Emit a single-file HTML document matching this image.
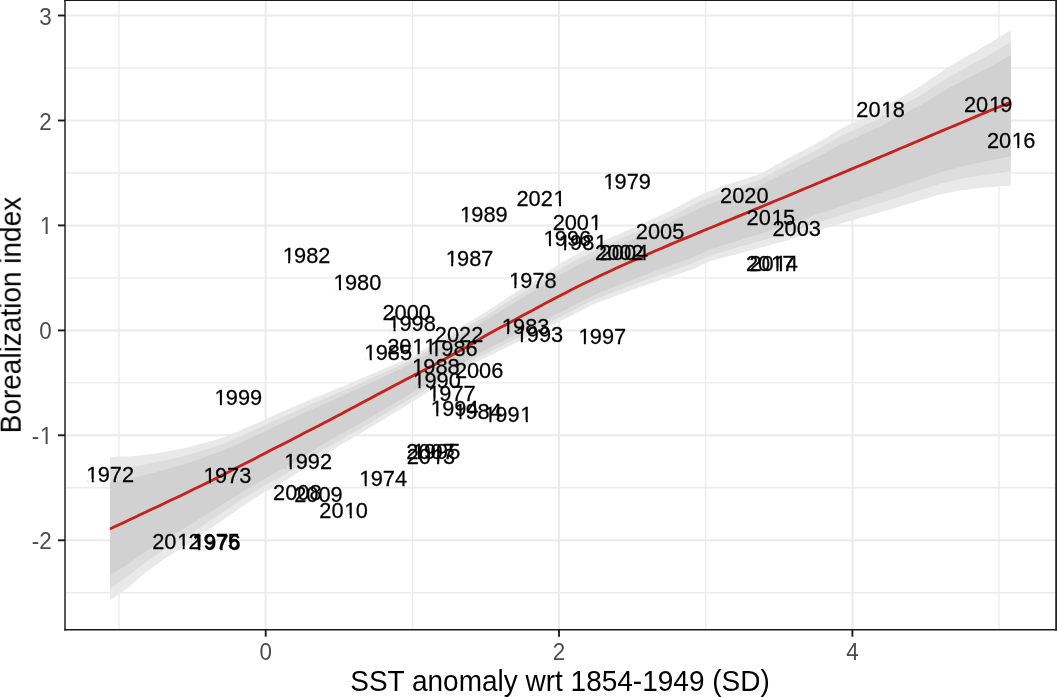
<!DOCTYPE html><html><head><meta charset="utf-8"><style>html,body{margin:0;padding:0;background:#fff;}svg{display:block;}</style></head><body><svg width="1057" height="697" viewBox="0 0 1057 697">
<rect width="1057" height="697" fill="#fff"/>
<defs><clipPath id="pc"><rect x="65.0" y="0.0" width="991.0" height="629.7"/></clipPath></defs>
<g clip-path="url(#pc)">
<line x1="119.0" y1="0.0" x2="119.0" y2="629.7" stroke="#EBEBEB" stroke-width="1.4"/>
<line x1="412.4" y1="0.0" x2="412.4" y2="629.7" stroke="#EBEBEB" stroke-width="1.4"/>
<line x1="705.7" y1="0.0" x2="705.7" y2="629.7" stroke="#EBEBEB" stroke-width="1.4"/>
<line x1="999.0" y1="0.0" x2="999.0" y2="629.7" stroke="#EBEBEB" stroke-width="1.4"/>
<line x1="65.0" y1="592.8" x2="1056.0" y2="592.8" stroke="#EBEBEB" stroke-width="1.4"/>
<line x1="65.0" y1="487.8" x2="1056.0" y2="487.8" stroke="#EBEBEB" stroke-width="1.4"/>
<line x1="65.0" y1="382.9" x2="1056.0" y2="382.9" stroke="#EBEBEB" stroke-width="1.4"/>
<line x1="65.0" y1="277.9" x2="1056.0" y2="277.9" stroke="#EBEBEB" stroke-width="1.4"/>
<line x1="65.0" y1="173.0" x2="1056.0" y2="173.0" stroke="#EBEBEB" stroke-width="1.4"/>
<line x1="65.0" y1="68.0" x2="1056.0" y2="68.0" stroke="#EBEBEB" stroke-width="1.4"/>
<line x1="265.7" y1="0.0" x2="265.7" y2="629.7" stroke="#EBEBEB" stroke-width="2"/>
<line x1="559.0" y1="0.0" x2="559.0" y2="629.7" stroke="#EBEBEB" stroke-width="2"/>
<line x1="852.4" y1="0.0" x2="852.4" y2="629.7" stroke="#EBEBEB" stroke-width="2"/>
<line x1="65.0" y1="540.3" x2="1056.0" y2="540.3" stroke="#EBEBEB" stroke-width="2"/>
<line x1="65.0" y1="435.3" x2="1056.0" y2="435.3" stroke="#EBEBEB" stroke-width="2"/>
<line x1="65.0" y1="330.4" x2="1056.0" y2="330.4" stroke="#EBEBEB" stroke-width="2"/>
<line x1="65.0" y1="225.4" x2="1056.0" y2="225.4" stroke="#EBEBEB" stroke-width="2"/>
<line x1="65.0" y1="120.5" x2="1056.0" y2="120.5" stroke="#EBEBEB" stroke-width="2"/>
<line x1="65.0" y1="15.5" x2="1056.0" y2="15.5" stroke="#EBEBEB" stroke-width="2"/>
<path d="M110.0,457.0 L115.0,456.8 L120.0,456.6 L125.0,456.4 L130.0,456.3 L135.0,456.1 L140.0,455.6 L145.0,454.8 L150.0,454.1 L155.0,453.4 L160.0,452.7 L165.0,451.8 L170.1,450.9 L175.1,449.9 L180.1,448.9 L185.1,448.0 L190.1,446.7 L195.1,445.4 L200.1,444.1 L205.1,442.8 L210.1,441.4 L215.1,439.9 L220.1,438.4 L225.1,437.0 L230.1,434.8 L235.1,432.6 L240.1,430.4 L245.1,428.3 L250.1,426.1 L255.1,423.9 L260.1,421.7 L265.1,419.4 L270.1,417.1 L275.1,414.8 L280.2,412.4 L285.2,410.4 L290.2,408.3 L295.2,406.2 L300.2,404.0 L305.2,401.7 L310.2,399.5 L315.2,397.5 L320.2,395.5 L325.2,393.5 L330.2,391.5 L335.2,389.5 L340.2,387.5 L345.2,385.4 L350.2,383.3 L355.2,381.2 L360.2,379.0 L365.2,376.9 L370.2,374.8 L375.2,372.7 L380.2,370.5 L385.2,368.3 L390.2,366.1 L395.3,363.9 L400.3,361.7 L405.3,359.5 L410.3,357.3 L415.3,354.5 L420.3,351.4 L425.3,348.4 L430.3,345.3 L435.3,342.2 L440.3,339.2 L445.3,336.1 L450.3,333.0 L455.3,330.0 L460.3,327.0 L465.3,324.0 L470.3,321.1 L475.3,318.2 L480.3,315.3 L485.3,312.4 L490.3,309.1 L495.3,305.7 L500.3,302.3 L505.4,298.9 L510.4,295.7 L515.4,292.5 L520.4,289.3 L525.4,286.1 L530.4,283.0 L535.4,279.9 L540.4,276.7 L545.4,273.4 L550.4,270.0 L555.4,266.6 L560.4,263.3 L565.4,260.5 L570.4,257.8 L575.4,255.0 L580.4,252.3 L585.4,249.8 L590.4,247.3 L595.4,244.8 L600.4,242.3 L605.4,240.0 L610.4,237.8 L615.4,235.6 L620.5,233.4 L625.5,231.2 L630.5,228.9 L635.5,226.7 L640.5,224.5 L645.5,222.2 L650.5,219.9 L655.5,217.6 L660.5,215.3 L665.5,213.1 L670.5,210.7 L675.5,208.1 L680.5,205.4 L685.5,202.7 L690.5,200.1 L695.5,197.4 L700.5,194.8 L705.5,192.8 L710.5,190.9 L715.5,188.9 L720.5,187.0 L725.5,185.2 L730.6,183.6 L735.6,181.9 L740.6,180.3 L745.6,178.7 L750.6,177.1 L755.6,175.4 L760.6,173.7 L765.6,170.8 L770.6,167.9 L775.6,165.0 L780.6,162.2 L785.6,159.6 L790.6,156.9 L795.6,154.3 L800.6,151.7 L805.6,149.1 L810.6,146.4 L815.6,143.8 L820.6,141.1 L825.6,138.0 L830.6,134.9 L835.6,131.7 L840.6,128.7 L845.7,126.3 L850.7,124.0 L855.7,121.7 L860.7,119.3 L865.7,117.0 L870.7,114.7 L875.7,112.3 L880.7,109.9 L885.7,106.6 L890.7,103.3 L895.7,100.4 L900.7,97.5 L905.7,94.7 L910.7,91.8 L915.7,88.9 L920.7,86.0 L925.7,82.6 L930.7,79.1 L935.7,75.7 L940.7,72.3 L945.7,68.8 L950.7,65.6 L955.8,62.7 L960.8,59.8 L965.8,57.0 L970.8,54.1 L975.8,51.2 L980.8,48.3 L985.8,45.4 L990.8,42.5 L995.8,39.4 L1000.8,36.3 L1005.8,33.1 L1010.8,30.0 L1010.8,185.5 L1005.8,185.9 L1000.8,186.3 L995.8,186.7 L990.8,187.1 L985.8,187.4 L980.8,188.0 L975.8,188.5 L970.8,189.1 L965.8,189.7 L960.8,190.2 L955.8,191.2 L950.7,192.2 L945.7,193.3 L940.7,194.3 L935.7,195.8 L930.7,197.3 L925.7,198.8 L920.7,200.3 L915.7,201.8 L910.7,203.3 L905.7,204.8 L900.7,206.3 L895.7,207.8 L890.7,209.3 L885.7,210.7 L880.7,212.1 L875.7,213.6 L870.7,215.0 L865.7,216.4 L860.7,217.8 L855.7,219.3 L850.7,220.8 L845.7,222.3 L840.6,223.8 L835.6,225.3 L830.6,226.8 L825.6,228.3 L820.6,229.8 L815.6,231.4 L810.6,232.9 L805.6,234.5 L800.6,236.1 L795.6,237.7 L790.6,239.2 L785.6,240.8 L780.6,242.2 L775.6,243.6 L770.6,245.0 L765.6,246.4 L760.6,247.8 L755.6,249.2 L750.6,250.5 L745.6,251.8 L740.6,253.1 L735.6,254.4 L730.6,255.7 L725.5,257.0 L720.5,258.3 L715.5,259.6 L710.5,260.9 L705.5,263.1 L700.5,265.5 L695.5,267.9 L690.5,270.1 L685.5,271.8 L680.5,273.4 L675.5,275.1 L670.5,276.8 L665.5,278.5 L660.5,280.1 L655.5,281.8 L650.5,283.5 L645.5,285.2 L640.5,286.8 L635.5,288.7 L630.5,290.5 L625.5,292.4 L620.5,294.2 L615.4,296.1 L610.4,297.9 L605.4,299.8 L600.4,301.6 L595.4,303.5 L590.4,305.8 L585.4,308.4 L580.4,311.0 L575.4,313.6 L570.4,316.1 L565.4,318.7 L560.4,321.3 L555.4,323.8 L550.4,326.2 L545.4,328.6 L540.4,331.1 L535.4,333.5 L530.4,335.9 L525.4,338.4 L520.4,340.8 L515.4,343.2 L510.4,345.6 L505.4,348.1 L500.3,350.5 L495.3,352.9 L490.3,355.3 L485.3,357.7 L480.3,360.1 L475.3,362.6 L470.3,365.8 L465.3,368.9 L460.3,372.0 L455.3,375.2 L450.3,378.3 L445.3,381.4 L440.3,384.6 L435.3,387.7 L430.3,390.8 L425.3,393.9 L420.3,397.0 L415.3,400.0 L410.3,403.1 L405.3,406.2 L400.3,409.3 L395.3,412.3 L390.2,415.4 L385.2,418.5 L380.2,421.6 L375.2,424.6 L370.2,427.6 L365.2,430.6 L360.2,433.5 L355.2,436.5 L350.2,439.4 L345.2,442.3 L340.2,445.3 L335.2,448.2 L330.2,451.1 L325.2,454.2 L320.2,457.5 L315.2,460.9 L310.2,464.2 L305.2,467.6 L300.2,470.9 L295.2,474.2 L290.2,477.6 L285.2,480.9 L280.2,483.7 L275.1,486.4 L270.1,489.2 L265.1,491.9 L260.1,495.0 L255.1,498.2 L250.1,501.3 L245.1,504.4 L240.1,507.9 L235.1,511.4 L230.1,514.9 L225.1,518.4 L220.1,521.9 L215.1,525.4 L210.1,528.9 L205.1,532.4 L200.1,535.8 L195.1,539.2 L190.1,542.6 L185.1,546.0 L180.1,549.1 L175.1,552.2 L170.1,555.3 L165.0,558.5 L160.0,562.1 L155.0,565.7 L150.0,569.3 L145.0,573.0 L140.0,577.3 L135.0,581.6 L130.0,585.9 L125.0,589.8 L120.0,593.3 L115.0,596.8 L110.0,600.3 Z" fill="#E9E9E9"/>
<path d="M110.0,469.2 L115.0,468.7 L120.0,468.1 L125.0,467.6 L130.0,467.0 L135.0,466.5 L140.0,465.6 L145.0,464.6 L150.0,463.6 L155.0,462.6 L160.0,461.6 L165.0,460.5 L170.1,459.3 L175.1,458.1 L180.1,456.9 L185.1,455.7 L190.1,454.2 L195.1,452.7 L200.1,451.2 L205.1,449.7 L210.1,448.2 L215.1,446.5 L220.1,444.9 L225.1,443.2 L230.1,441.0 L235.1,438.7 L240.1,436.5 L245.1,434.2 L250.1,432.0 L255.1,429.8 L260.1,427.5 L265.1,425.2 L270.1,422.8 L275.1,420.4 L280.2,418.1 L285.2,415.9 L290.2,413.7 L295.2,411.6 L300.2,409.3 L305.2,407.0 L310.2,404.7 L315.2,402.6 L320.2,400.5 L325.2,398.4 L330.2,396.3 L335.2,394.2 L340.2,392.1 L345.2,389.9 L350.2,387.7 L355.2,385.5 L360.2,383.2 L365.2,381.0 L370.2,378.8 L375.2,376.6 L380.2,374.4 L385.2,372.1 L390.2,369.8 L395.3,367.5 L400.3,365.2 L405.3,362.9 L410.3,360.6 L415.3,357.9 L420.3,354.9 L425.3,351.9 L430.3,348.9 L435.3,346.0 L440.3,343.0 L445.3,339.9 L450.3,336.9 L455.3,333.9 L460.3,331.0 L465.3,328.1 L470.3,325.1 L475.3,322.2 L480.3,319.3 L485.3,316.4 L490.3,313.1 L495.3,309.9 L500.3,306.6 L505.4,303.3 L510.4,300.2 L515.4,297.1 L520.4,293.9 L525.4,290.9 L530.4,287.8 L535.4,284.8 L540.4,281.7 L545.4,278.5 L550.4,275.2 L555.4,272.0 L560.4,268.8 L565.4,266.0 L570.4,263.3 L575.4,260.6 L580.4,257.9 L585.4,255.4 L590.4,252.9 L595.4,250.4 L600.4,247.9 L605.4,245.6 L610.4,243.4 L615.4,241.2 L620.5,239.0 L625.5,236.7 L630.5,234.5 L635.5,232.3 L640.5,230.1 L645.5,227.8 L650.5,225.5 L655.5,223.3 L660.5,221.0 L665.5,218.8 L670.5,216.5 L675.5,213.9 L680.5,211.3 L685.5,208.7 L690.5,206.2 L695.5,203.6 L700.5,201.1 L705.5,199.1 L710.5,197.1 L715.5,195.2 L720.5,193.2 L725.5,191.4 L730.6,189.7 L735.6,188.0 L740.6,186.3 L745.6,184.6 L750.6,182.9 L755.6,181.2 L760.6,179.3 L765.6,176.6 L770.6,173.9 L775.6,171.1 L780.6,168.4 L785.6,165.9 L790.6,163.3 L795.6,160.8 L800.6,158.3 L805.6,155.7 L810.6,153.2 L815.6,150.7 L820.6,148.1 L825.6,145.1 L830.6,142.2 L835.6,139.2 L840.6,136.3 L845.7,134.0 L850.7,131.7 L855.7,129.4 L860.7,127.1 L865.7,124.8 L870.7,122.5 L875.7,120.2 L880.7,117.8 L885.7,114.8 L890.7,111.7 L895.7,108.9 L900.7,106.2 L905.7,103.4 L910.7,100.7 L915.7,98.0 L920.7,95.2 L925.7,92.0 L930.7,88.7 L935.7,85.5 L940.7,82.3 L945.7,79.1 L950.7,76.1 L955.8,73.3 L960.8,70.6 L965.8,67.8 L970.8,65.1 L975.8,62.3 L980.8,59.6 L985.8,56.8 L990.8,54.0 L995.8,51.1 L1000.8,48.1 L1005.8,45.2 L1010.8,42.2 L1010.8,171.3 L1005.8,172.0 L1000.8,172.7 L995.8,173.3 L990.8,174.0 L985.8,174.7 L980.8,175.5 L975.8,176.3 L970.8,177.1 L965.8,178.0 L960.8,178.8 L955.8,180.0 L950.7,181.2 L945.7,182.4 L940.7,183.6 L935.7,185.2 L930.7,186.8 L925.7,188.4 L920.7,190.0 L915.7,191.6 L910.7,193.2 L905.7,194.8 L900.7,196.4 L895.7,198.0 L890.7,199.7 L885.7,201.2 L880.7,202.7 L875.7,204.3 L870.7,205.8 L865.7,207.3 L860.7,208.9 L855.7,210.5 L850.7,212.1 L845.7,213.7 L840.6,215.3 L835.6,216.9 L830.6,218.5 L825.6,220.1 L820.6,221.7 L815.6,223.3 L810.6,225.0 L805.6,226.7 L800.6,228.3 L795.6,230.0 L790.6,231.6 L785.6,233.3 L780.6,234.8 L775.6,236.4 L770.6,237.9 L765.6,239.4 L760.6,240.9 L755.6,242.3 L750.6,243.8 L745.6,245.2 L740.6,246.6 L735.6,248.1 L730.6,249.5 L725.5,250.9 L720.5,252.4 L715.5,253.8 L710.5,255.2 L705.5,257.5 L700.5,259.8 L695.5,262.1 L690.5,264.3 L685.5,266.1 L680.5,267.8 L675.5,269.5 L670.5,271.3 L665.5,273.0 L660.5,274.8 L655.5,276.6 L650.5,278.3 L645.5,280.1 L640.5,281.8 L635.5,283.7 L630.5,285.6 L625.5,287.6 L620.5,289.5 L615.4,291.4 L610.4,293.3 L605.4,295.3 L600.4,297.2 L595.4,299.1 L590.4,301.5 L585.4,304.1 L580.4,306.6 L575.4,309.2 L570.4,311.7 L565.4,314.3 L560.4,316.9 L555.4,319.4 L550.4,321.9 L545.4,324.3 L540.4,326.8 L535.4,329.3 L530.4,331.8 L525.4,334.3 L520.4,336.7 L515.4,339.2 L510.4,341.7 L505.4,344.1 L500.3,346.6 L495.3,349.0 L490.3,351.5 L485.3,354.0 L480.3,356.5 L475.3,359.1 L470.3,362.2 L465.3,365.3 L460.3,368.4 L455.3,371.4 L450.3,374.5 L445.3,377.6 L440.3,380.6 L435.3,383.7 L430.3,386.7 L425.3,389.7 L420.3,392.7 L415.3,395.7 L410.3,398.7 L405.3,401.7 L400.3,404.7 L395.3,407.7 L390.2,410.7 L385.2,413.8 L380.2,416.8 L375.2,419.7 L370.2,422.7 L365.2,425.6 L360.2,428.5 L355.2,431.4 L350.2,434.3 L345.2,437.1 L340.2,440.0 L335.2,442.9 L330.2,445.8 L325.2,448.8 L320.2,452.0 L315.2,455.2 L310.2,458.4 L305.2,461.6 L300.2,464.8 L295.2,468.0 L290.2,471.2 L285.2,474.4 L280.2,477.2 L275.1,479.9 L270.1,482.6 L265.1,485.3 L260.1,488.4 L255.1,491.4 L250.1,494.4 L245.1,497.5 L240.1,500.8 L235.1,504.1 L230.1,507.5 L225.1,510.8 L220.1,514.2 L215.1,517.5 L210.1,520.8 L205.1,524.2 L200.1,527.4 L195.1,530.6 L190.1,533.8 L185.1,537.0 L180.1,540.0 L175.1,543.0 L170.1,546.0 L165.0,549.0 L160.0,552.5 L155.0,555.9 L150.0,559.3 L145.0,562.7 L140.0,566.7 L135.0,570.6 L130.0,574.6 L125.0,578.3 L120.0,581.6 L115.0,584.9 L110.0,588.2 Z" fill="#DDDDDD"/>
<path d="M110.0,482.2 L115.0,481.2 L120.0,480.3 L125.0,479.4 L130.0,478.4 L135.0,477.5 L140.0,476.3 L145.0,475.0 L150.0,473.7 L155.0,472.4 L160.0,471.1 L165.0,469.7 L170.1,468.3 L175.1,466.8 L180.1,465.4 L185.1,463.9 L190.1,462.2 L195.1,460.5 L200.1,458.8 L205.1,457.1 L210.1,455.3 L215.1,453.5 L220.1,451.7 L225.1,449.8 L230.1,447.5 L235.1,445.2 L240.1,442.9 L245.1,440.6 L250.1,438.3 L255.1,436.0 L260.1,433.7 L265.1,431.2 L270.1,428.8 L275.1,426.4 L280.2,424.0 L285.2,421.8 L290.2,419.5 L295.2,417.2 L300.2,414.9 L305.2,412.5 L310.2,410.2 L315.2,408.0 L320.2,405.8 L325.2,403.6 L330.2,401.4 L335.2,399.2 L340.2,396.9 L345.2,394.6 L350.2,392.3 L355.2,390.0 L360.2,387.7 L365.2,385.4 L370.2,383.1 L375.2,380.8 L380.2,378.4 L385.2,376.1 L390.2,373.7 L395.3,371.3 L400.3,368.9 L405.3,366.6 L410.3,364.2 L415.3,361.5 L420.3,358.6 L425.3,355.7 L430.3,352.8 L435.3,349.9 L440.3,347.0 L445.3,344.0 L450.3,341.1 L455.3,338.1 L460.3,335.2 L465.3,332.3 L470.3,329.4 L475.3,326.5 L480.3,323.5 L485.3,320.6 L490.3,317.4 L495.3,314.3 L500.3,311.2 L505.4,308.0 L510.4,305.0 L515.4,301.9 L520.4,298.9 L525.4,295.9 L530.4,292.9 L535.4,290.0 L540.4,287.0 L545.4,283.9 L550.4,280.7 L555.4,277.6 L560.4,274.5 L565.4,271.9 L570.4,269.2 L575.4,266.5 L580.4,263.8 L585.4,261.4 L590.4,258.9 L595.4,256.4 L600.4,253.9 L605.4,251.6 L610.4,249.4 L615.4,247.1 L620.5,244.9 L625.5,242.7 L630.5,240.4 L635.5,238.2 L640.5,236.0 L645.5,233.7 L650.5,231.5 L655.5,229.2 L660.5,227.0 L665.5,224.8 L670.5,222.5 L675.5,220.1 L680.5,217.6 L685.5,215.1 L690.5,212.7 L695.5,210.2 L700.5,207.8 L705.5,205.8 L710.5,203.8 L715.5,201.8 L720.5,199.8 L725.5,197.9 L730.6,196.1 L735.6,194.4 L740.6,192.6 L745.6,190.8 L750.6,189.0 L755.6,187.2 L760.6,185.4 L765.6,182.8 L770.6,180.2 L775.6,177.6 L780.6,175.0 L785.6,172.5 L790.6,170.1 L795.6,167.7 L800.6,165.2 L805.6,162.8 L810.6,160.4 L815.6,157.9 L820.6,155.4 L825.6,152.7 L830.6,149.9 L835.6,147.1 L840.6,144.4 L845.7,142.2 L850.7,139.9 L855.7,137.6 L860.7,135.4 L865.7,133.1 L870.7,130.9 L875.7,128.6 L880.7,126.3 L885.7,123.4 L890.7,120.6 L895.7,117.9 L900.7,115.3 L905.7,112.7 L910.7,110.1 L915.7,107.5 L920.7,104.9 L925.7,101.9 L930.7,98.9 L935.7,95.9 L940.7,93.0 L945.7,90.0 L950.7,87.2 L955.8,84.5 L960.8,81.9 L965.8,79.3 L970.8,76.7 L975.8,74.1 L980.8,71.5 L985.8,68.9 L990.8,66.3 L995.8,63.5 L1000.8,60.7 L1005.8,58.0 L1010.8,55.2 L1010.8,156.3 L1005.8,157.3 L1000.8,158.2 L995.8,159.2 L990.8,160.2 L985.8,161.2 L980.8,162.3 L975.8,163.4 L970.8,164.5 L965.8,165.6 L960.8,166.7 L955.8,168.1 L950.7,169.5 L945.7,170.9 L940.7,172.3 L935.7,174.0 L930.7,175.7 L925.7,177.4 L920.7,179.1 L915.7,180.9 L910.7,182.6 L905.7,184.3 L900.7,186.0 L895.7,187.7 L890.7,189.4 L885.7,191.1 L880.7,192.8 L875.7,194.4 L870.7,196.1 L865.7,197.8 L860.7,199.4 L855.7,201.1 L850.7,202.8 L845.7,204.5 L840.6,206.2 L835.6,208.0 L830.6,209.7 L825.6,211.4 L820.6,213.1 L815.6,214.8 L810.6,216.6 L805.6,218.3 L800.6,220.1 L795.6,221.9 L790.6,223.6 L785.6,225.4 L780.6,227.0 L775.6,228.7 L770.6,230.3 L765.6,231.9 L760.6,233.6 L755.6,235.1 L750.6,236.7 L745.6,238.3 L740.6,239.9 L735.6,241.4 L730.6,243.0 L725.5,244.6 L720.5,246.1 L715.5,247.7 L710.5,249.3 L705.5,251.5 L700.5,253.8 L695.5,256.0 L690.5,258.2 L685.5,260.0 L680.5,261.8 L675.5,263.6 L670.5,265.5 L665.5,267.3 L660.5,269.1 L655.5,271.0 L650.5,272.8 L645.5,274.7 L640.5,276.5 L635.5,278.5 L630.5,280.5 L625.5,282.5 L620.5,284.5 L615.4,286.5 L610.4,288.5 L605.4,290.5 L600.4,292.5 L595.4,294.5 L590.4,296.9 L585.4,299.5 L580.4,302.0 L575.4,304.5 L570.4,307.1 L565.4,309.7 L560.4,312.2 L555.4,314.8 L550.4,317.3 L545.4,319.8 L540.4,322.3 L535.4,324.8 L530.4,327.3 L525.4,329.9 L520.4,332.4 L515.4,334.9 L510.4,337.4 L505.4,339.9 L500.3,342.5 L495.3,345.0 L490.3,347.5 L485.3,350.0 L480.3,352.6 L475.3,355.3 L470.3,358.4 L465.3,361.5 L460.3,364.5 L455.3,367.5 L450.3,370.5 L445.3,373.5 L440.3,376.5 L435.3,379.5 L430.3,382.4 L425.3,385.3 L420.3,388.2 L415.3,391.1 L410.3,394.0 L405.3,397.0 L400.3,399.9 L395.3,402.8 L390.2,405.8 L385.2,408.7 L380.2,411.6 L375.2,414.5 L370.2,417.4 L365.2,420.3 L360.2,423.1 L355.2,426.0 L350.2,428.8 L345.2,431.6 L340.2,434.5 L335.2,437.3 L330.2,440.1 L325.2,443.0 L320.2,446.1 L315.2,449.2 L310.2,452.3 L305.2,455.3 L300.2,458.4 L295.2,461.5 L290.2,464.5 L285.2,467.6 L280.2,470.3 L275.1,473.0 L270.1,475.7 L265.1,478.4 L260.1,481.3 L255.1,484.2 L250.1,487.2 L245.1,490.1 L240.1,493.3 L235.1,496.4 L230.1,499.6 L225.1,502.8 L220.1,505.9 L215.1,509.1 L210.1,512.2 L205.1,515.4 L200.1,518.4 L195.1,521.5 L190.1,524.5 L185.1,527.6 L180.1,530.5 L175.1,533.3 L170.1,536.2 L165.0,539.1 L160.0,542.2 L155.0,545.4 L150.0,548.6 L145.0,551.8 L140.0,555.4 L135.0,559.1 L130.0,562.7 L125.0,566.0 L120.0,569.1 L115.0,572.2 L110.0,575.3 Z" fill="#D1D1D1"/>
<path d="M110.0,529.0 L115.0,526.6 L120.0,524.3 L125.0,521.9 L130.0,519.5 L135.0,517.2 L140.0,514.8 L145.0,512.5 L150.0,510.1 L155.0,507.8 L160.0,505.4 L165.0,503.0 L170.1,500.6 L175.1,498.3 L180.1,495.9 L185.1,493.5 L190.1,491.0 L195.1,488.6 L200.1,486.2 L205.1,483.7 L210.1,481.2 L215.1,478.7 L220.1,476.2 L225.1,473.7 L230.1,471.2 L235.1,468.6 L240.1,466.1 L245.1,463.5 L250.1,460.9 L255.1,458.4 L260.1,455.8 L265.1,453.2 L270.1,450.6 L275.1,448.1 L280.2,445.5 L285.2,442.9 L290.2,440.4 L295.2,437.8 L300.2,435.2 L305.2,432.6 L310.2,430.0 L315.2,427.5 L320.2,424.9 L325.2,422.3 L330.2,419.7 L335.2,417.0 L340.2,414.4 L345.2,411.8 L350.2,409.1 L355.2,406.5 L360.2,403.8 L365.2,401.1 L370.2,398.5 L375.2,395.8 L380.2,393.1 L385.2,390.4 L390.2,387.8 L395.3,385.1 L400.3,382.4 L405.3,379.8 L410.3,377.2 L415.3,374.5 L420.3,371.9 L425.3,369.4 L430.3,366.8 L435.3,364.2 L440.3,361.5 L445.3,358.7 L450.3,356.0 L455.3,353.2 L460.3,350.5 L465.3,347.7 L470.3,344.8 L475.3,341.8 L480.3,338.7 L485.3,335.8 L490.3,333.0 L495.3,330.3 L500.3,327.6 L505.4,324.9 L510.4,322.2 L515.4,319.5 L520.4,316.8 L525.4,314.1 L530.4,311.4 L535.4,308.7 L540.4,306.0 L545.4,303.3 L550.4,300.7 L555.4,298.1 L560.4,295.5 L565.4,292.9 L570.4,290.3 L575.4,287.8 L580.4,285.3 L585.4,282.8 L590.4,280.4 L595.4,278.0 L600.4,275.6 L605.4,273.2 L610.4,270.9 L615.4,268.6 L620.5,266.3 L625.5,264.0 L630.5,261.8 L635.5,259.6 L640.5,257.4 L645.5,255.2 L650.5,253.0 L655.5,250.8 L660.5,248.7 L665.5,246.6 L670.5,244.4 L675.5,242.3 L680.5,240.2 L685.5,238.1 L690.5,236.1 L695.5,234.0 L700.5,231.9 L705.5,229.8 L710.5,227.8 L715.5,225.7 L720.5,223.6 L725.5,221.6 L730.6,219.5 L735.6,217.4 L740.6,215.4 L745.6,213.3 L750.6,211.2 L755.6,209.1 L760.6,207.1 L765.6,205.0 L770.6,202.9 L775.6,200.8 L780.6,198.7 L785.6,196.7 L790.6,194.6 L795.6,192.5 L800.6,190.4 L805.6,188.3 L810.6,186.2 L815.6,184.1 L820.6,182.0 L825.6,179.9 L830.6,177.8 L835.6,175.7 L840.6,173.6 L845.7,171.5 L850.7,169.4 L855.7,167.3 L860.7,165.2 L865.7,163.1 L870.7,161.0 L875.7,158.9 L880.7,156.8 L885.7,154.7 L890.7,152.6 L895.7,150.5 L900.7,148.3 L905.7,146.2 L910.7,144.1 L915.7,142.0 L920.7,139.9 L925.7,137.8 L930.7,135.6 L935.7,133.5 L940.7,131.4 L945.7,129.3 L950.7,127.2 L955.8,125.1 L960.8,123.0 L965.8,120.9 L970.8,118.7 L975.8,116.6 L980.8,114.5 L985.8,112.4 L990.8,110.3 L995.8,108.3 L1000.8,106.2 L1005.8,104.1 L1010.8,102.0" fill="none" stroke="#C8211B" stroke-width="2.8" stroke-linejoin="round"/>
<g font-family="Liberation Sans, sans-serif" font-size="21.8" fill="#000" stroke="#000" stroke-width="0.25" opacity="0.999">
<text transform="translate(856.33,116.90) scale(1,1.04)" x="0.00 12.12 24.99 36.37" y="0" mask="url(#m0)">2018</text>
<text transform="translate(963.95,111.80) scale(1,1.04)" x="0.00 12.12 24.99 36.37" y="0" mask="url(#m0)">2019</text>
<text transform="translate(986.88,147.70) scale(1,1.04)" x="0.00 12.12 24.99 36.37" y="0" mask="url(#m0)">2016</text>
<text transform="translate(602.48,188.70) scale(1,1.04)" x="0.74 12.12 24.25 36.37" y="0" mask="url(#m1)">1979</text>
<text transform="translate(516.48,205.70) scale(1,1.04)" x="0.00 12.12 24.25 37.11" y="0" mask="url(#m2)">2021</text>
<text transform="translate(459.18,221.80) scale(1,1.04)" x="0.74 12.12 24.25 36.37" y="0" mask="url(#m1)">1989</text>
<text transform="translate(552.63,230.20) scale(1,1.04)" x="0.00 12.12 24.25 37.11" y="0" mask="url(#m2)">2001</text>
<text transform="translate(635.77,238.60) scale(1,1.04)" x="0.00 12.12 24.25 36.37" y="0">2005</text>
<text transform="translate(542.72,246.30) scale(1,1.04)" x="0.74 12.12 24.25 36.37" y="0" mask="url(#m1)">1996</text>
<text transform="translate(557.90,249.70) scale(1,1.04)" x="0.74 12.12 24.25 37.11" y="0" mask="url(#m3)">1981</text>
<text transform="translate(595.06,260.20) scale(1,1.04)" x="0.00 12.12 24.25 36.37" y="0">2002</text>
<text transform="translate(599.76,260.20) scale(1,1.04)" x="0.00 12.12 24.25 36.37" y="0">2004</text>
<text transform="translate(720.02,203.30) scale(1,1.04)" x="0.00 12.12 24.25 36.37" y="0">2020</text>
<text transform="translate(746.57,224.50) scale(1,1.04)" x="0.00 12.12 24.99 36.37" y="0" mask="url(#m0)">2015</text>
<text transform="translate(772.43,235.50) scale(1,1.04)" x="0.00 12.12 24.25 36.37" y="0">2003</text>
<text transform="translate(745.96,271.00) scale(1,1.04)" x="0.00 12.12 24.99 36.37" y="0" mask="url(#m0)">2017</text>
<text transform="translate(749.46,271.00) scale(1,1.04)" x="0.00 12.12 24.99 36.37" y="0" mask="url(#m0)">2014</text>
<text transform="translate(577.64,344.20) scale(1,1.04)" x="0.74 12.12 24.25 36.37" y="0" mask="url(#m1)">1997</text>
<text transform="translate(281.94,262.70) scale(1,1.04)" x="0.74 12.12 24.25 36.37" y="0" mask="url(#m1)">1982</text>
<text transform="translate(444.94,265.70) scale(1,1.04)" x="0.74 12.12 24.25 36.37" y="0" mask="url(#m1)">1987</text>
<text transform="translate(332.79,289.50) scale(1,1.04)" x="0.74 12.12 24.25 36.37" y="0" mask="url(#m1)">1980</text>
<text transform="translate(508.15,287.80) scale(1,1.04)" x="0.74 12.12 24.25 36.37" y="0" mask="url(#m1)">1978</text>
<text transform="translate(382.47,319.90) scale(1,1.04)" x="0.00 12.12 24.25 36.37" y="0">2000</text>
<text transform="translate(387.35,330.70) scale(1,1.04)" x="0.74 12.12 24.25 36.37" y="0" mask="url(#m1)">1998</text>
<text transform="translate(434.86,342.30) scale(1,1.04)" x="0.00 12.12 24.25 36.37" y="0">2022</text>
<text transform="translate(387.16,354.30) scale(1,1.04)" x="0.00 12.12 24.99 37.11" y="0" mask="url(#m4)">2011</text>
<text transform="translate(429.20,356.40) scale(1,1.04)" x="0.74 12.12 24.25 36.37" y="0" mask="url(#m1)">1986</text>
<text transform="translate(363.54,360.30) scale(1,1.04)" x="0.74 12.12 24.25 36.37" y="0" mask="url(#m1)">1985</text>
<text transform="translate(500.92,334.30) scale(1,1.04)" x="0.74 12.12 24.25 36.37" y="0" mask="url(#m1)">1983</text>
<text transform="translate(514.65,342.00) scale(1,1.04)" x="0.74 12.12 24.25 36.37" y="0" mask="url(#m1)">1993</text>
<text transform="translate(411.25,374.20) scale(1,1.04)" x="0.74 12.12 24.25 36.37" y="0" mask="url(#m1)">1988</text>
<text transform="translate(454.88,377.60) scale(1,1.04)" x="0.00 12.12 24.25 36.37" y="0">2006</text>
<text transform="translate(412.34,387.90) scale(1,1.04)" x="0.74 12.12 24.25 36.37" y="0" mask="url(#m1)">1990</text>
<text transform="translate(427.19,401.10) scale(1,1.04)" x="0.74 12.12 24.25 36.37" y="0" mask="url(#m1)">1977</text>
<text transform="translate(430.12,415.80) scale(1,1.04)" x="0.74 12.12 24.25 36.37" y="0" mask="url(#m1)">1994</text>
<text transform="translate(453.34,418.90) scale(1,1.04)" x="0.74 12.12 24.25 36.37" y="0" mask="url(#m1)">1984</text>
<text transform="translate(483.26,422.30) scale(1,1.04)" x="0.74 12.12 24.25 37.11" y="0" mask="url(#m3)">1991</text>
<text transform="translate(406.36,458.50) scale(1,1.04)" x="0.00 12.12 24.25 36.37" y="0">2007</text>
<text transform="translate(411.79,458.50) scale(1,1.04)" x="0.74 12.12 24.25 36.37" y="0" mask="url(#m1)">1995</text>
<text transform="translate(406.68,464.40) scale(1,1.04)" x="0.00 12.12 24.99 36.37" y="0" mask="url(#m0)">2013</text>
<text transform="translate(213.68,405.00) scale(1,1.04)" x="0.74 12.12 24.25 36.37" y="0" mask="url(#m1)">1999</text>
<text transform="translate(358.54,486.30) scale(1,1.04)" x="0.74 12.12 24.25 36.37" y="0" mask="url(#m1)">1974</text>
<text transform="translate(273.03,500.40) scale(1,1.04)" x="0.00 12.12 24.25 36.37" y="0">2008</text>
<text transform="translate(294.25,502.40) scale(1,1.04)" x="0.00 12.12 24.25 36.37" y="0">2009</text>
<text transform="translate(319.37,517.60) scale(1,1.04)" x="0.00 12.12 24.99 36.37" y="0" mask="url(#m0)">2010</text>
<text transform="translate(85.59,481.60) scale(1,1.04)" x="0.74 12.12 24.25 36.37" y="0" mask="url(#m1)">1972</text>
<text transform="translate(202.82,482.50) scale(1,1.04)" x="0.74 12.12 24.25 36.37" y="0" mask="url(#m1)">1973</text>
<text transform="translate(283.59,469.40) scale(1,1.04)" x="0.74 12.12 24.25 36.37" y="0" mask="url(#m1)">1992</text>
<text transform="translate(152.26,548.50) scale(1,1.04)" x="0.00 12.12 24.99 36.37" y="0" mask="url(#m0)">2012</text>
<text transform="translate(191.47,548.60) scale(1,1.04)" x="0.74 12.12 24.25 36.37" y="0" mask="url(#m1)">1975</text>
<text transform="translate(192.20,549.60) scale(1,1.04)" x="0.74 12.12 24.25 36.37" y="0" mask="url(#m1)">1976</text>
</g></g>
<g stroke="#1A1A1A" fill="none">
<line x1="64.2" y1="0.3" x2="1057" y2="0.3" stroke-width="1.5"/>
<line x1="64.2" y1="629.75" x2="1057" y2="629.75" stroke-width="1.5"/>
<line x1="65.0" y1="0" x2="65.0" y2="630.5" stroke-width="1.45"/>
<line x1="1056.1" y1="0" x2="1056.1" y2="630.5" stroke-width="1.7"/>
</g>
<line x1="265.7" y1="629.7" x2="265.7" y2="636.7" stroke="#1A1A1A" stroke-width="1.9"/>
<line x1="559.0" y1="629.7" x2="559.0" y2="636.7" stroke="#1A1A1A" stroke-width="1.9"/>
<line x1="852.4" y1="629.7" x2="852.4" y2="636.7" stroke="#1A1A1A" stroke-width="1.9"/>
<line x1="58.0" y1="540.3" x2="65.0" y2="540.3" stroke="#1A1A1A" stroke-width="1.9"/>
<line x1="58.0" y1="435.3" x2="65.0" y2="435.3" stroke="#1A1A1A" stroke-width="1.9"/>
<line x1="58.0" y1="330.4" x2="65.0" y2="330.4" stroke="#1A1A1A" stroke-width="1.9"/>
<line x1="58.0" y1="225.4" x2="65.0" y2="225.4" stroke="#1A1A1A" stroke-width="1.9"/>
<line x1="58.0" y1="120.5" x2="65.0" y2="120.5" stroke="#1A1A1A" stroke-width="1.9"/>
<line x1="58.0" y1="15.5" x2="65.0" y2="15.5" stroke="#1A1A1A" stroke-width="1.9"/>
<g font-family="Liberation Sans, sans-serif" font-size="22.4" fill="#4D4D4D" opacity="0.999">
<text transform="translate(259.47,660.0) scale(1,1.04)" x="0.00" y="0">0</text>
<text transform="translate(552.81,660.0) scale(1,1.04)" x="0.00" y="0">2</text>
<text transform="translate(846.15,660.0) scale(1,1.04)" x="0.00" y="0">4</text>
<text transform="translate(31.78,549.30) scale(1,1.04)" x="0.00 7.46" y="0">-2</text>
<text transform="translate(31.78,444.35) scale(1,1.04)" x="0.00 8.22" y="0" mask="url(#m5)">-1</text>
<text transform="translate(39.24,339.40) scale(1,1.04)" x="0.00" y="0">0</text>
<text transform="translate(39.24,234.45) scale(1,1.04)" x="0.76" y="0" mask="url(#m6)">1</text>
<text transform="translate(39.24,129.50) scale(1,1.04)" x="0.00" y="0">2</text>
<text transform="translate(39.24,24.55) scale(1,1.04)" x="0.00" y="0">3</text>
</g>
<g opacity="0.999">
<text transform="translate(560,691.2) scale(1,1.035)" text-anchor="middle" font-family="Liberation Sans, sans-serif" font-size="28" fill="#000">SST anomaly wrt 1854-1949 (SD)</text>
<text transform="translate(20.6,315.1) rotate(-90) scale(1,1.035)" text-anchor="middle" font-family="Liberation Sans, sans-serif" font-size="28" fill="#000">Borealization index</text></g>
<defs><mask id="m0" maskUnits="userSpaceOnUse" x="-20" y="-40" width="140" height="60" maskContentUnits="userSpaceOnUse"><rect x="-20" y="-40" width="140" height="60" fill="#fff"/><rect x="25.99" y="-2.43" width="4.44" height="3.63" fill="#000"/><rect x="32.45" y="-2.43" width="4.31" height="3.63" fill="#000"/></mask><mask id="m1" maskUnits="userSpaceOnUse" x="-20" y="-40" width="140" height="60" maskContentUnits="userSpaceOnUse"><rect x="-20" y="-40" width="140" height="60" fill="#fff"/><rect x="1.74" y="-2.43" width="4.44" height="3.63" fill="#000"/><rect x="8.20" y="-2.43" width="4.31" height="3.63" fill="#000"/></mask><mask id="m2" maskUnits="userSpaceOnUse" x="-20" y="-40" width="140" height="60" maskContentUnits="userSpaceOnUse"><rect x="-20" y="-40" width="140" height="60" fill="#fff"/><rect x="38.11" y="-2.43" width="4.44" height="3.63" fill="#000"/><rect x="44.57" y="-2.43" width="4.31" height="3.63" fill="#000"/></mask><mask id="m3" maskUnits="userSpaceOnUse" x="-20" y="-40" width="140" height="60" maskContentUnits="userSpaceOnUse"><rect x="-20" y="-40" width="140" height="60" fill="#fff"/><rect x="1.74" y="-2.43" width="4.44" height="3.63" fill="#000"/><rect x="8.20" y="-2.43" width="4.31" height="3.63" fill="#000"/><rect x="38.11" y="-2.43" width="4.44" height="3.63" fill="#000"/><rect x="44.57" y="-2.43" width="4.31" height="3.63" fill="#000"/></mask><mask id="m4" maskUnits="userSpaceOnUse" x="-20" y="-40" width="140" height="60" maskContentUnits="userSpaceOnUse"><rect x="-20" y="-40" width="140" height="60" fill="#fff"/><rect x="25.99" y="-2.43" width="4.44" height="3.63" fill="#000"/><rect x="32.45" y="-2.43" width="4.31" height="3.63" fill="#000"/><rect x="38.11" y="-2.43" width="4.44" height="3.63" fill="#000"/><rect x="44.57" y="-2.43" width="4.31" height="3.63" fill="#000"/></mask><mask id="m5" maskUnits="userSpaceOnUse" x="-20" y="-40" width="140" height="60" maskContentUnits="userSpaceOnUse"><rect x="-20" y="-40" width="140" height="60" fill="#fff"/><rect x="9.26" y="-2.47" width="4.54" height="3.67" fill="#000"/><rect x="15.88" y="-2.47" width="4.42" height="3.67" fill="#000"/></mask><mask id="m6" maskUnits="userSpaceOnUse" x="-20" y="-40" width="140" height="60" maskContentUnits="userSpaceOnUse"><rect x="-20" y="-40" width="140" height="60" fill="#fff"/><rect x="1.80" y="-2.47" width="4.54" height="3.67" fill="#000"/><rect x="8.42" y="-2.47" width="4.42" height="3.67" fill="#000"/></mask></defs>
</svg></body></html>
